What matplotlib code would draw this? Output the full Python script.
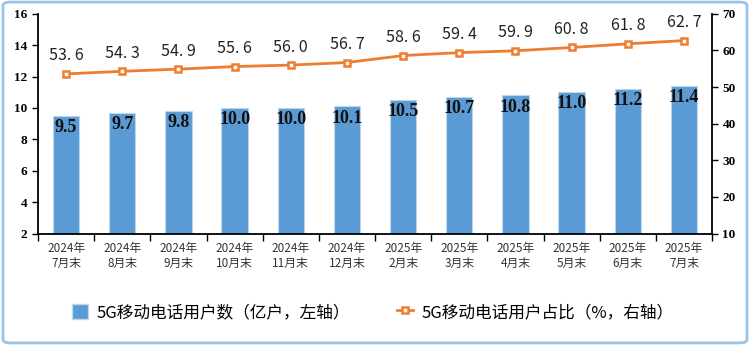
import matplotlib
matplotlib.use("Agg")
import matplotlib.pyplot as plt
from matplotlib.patches import FancyBboxPatch
from matplotlib.lines import Line2D
from matplotlib.patches import Patch
import numpy as np

plt.rcParams['font.family'] = ['Noto Sans CJK SC', 'DejaVu Sans']

categories = ["2024年\n7月末", "2024年\n8月末", "2024年\n9月末", "2024年\n10月末",
              "2024年\n11月末", "2024年\n12月末", "2025年\n2月末", "2025年\n3月末",
              "2025年\n4月末", "2025年\n5月末", "2025年\n6月末", "2025年\n7月末"]
users = [9.5, 9.7, 9.8, 10.0, 10.0, 10.1, 10.5, 10.7, 10.8, 11.0, 11.2, 11.4]
share = [53.6, 54.3, 54.9, 55.6, 56.0, 56.7, 58.6, 59.4, 59.9, 60.8, 61.8, 62.7]
bar_label = "5G移动电话用户数（亿户，左轴）"
line_label = "5G移动电话用户占比（%，右轴）"

bar_color = "#5B9BD5"
line_color = "#ED7D31"

fig = plt.figure(figsize=(7.5, 3.45), dpi=100)
fig.patch.set_facecolor("white")
border = FancyBboxPatch((0.004, 0.006), 0.992, 0.988, boxstyle="round,pad=0,rounding_size=0.01",
                        transform=fig.transFigure, facecolor="none", edgecolor="#9DC3E6",
                        linewidth=2.0, zorder=0)
fig.patches.append(border)

ax = fig.add_axes([0.0507, 0.323, 0.8987, 0.637])
x = np.arange(len(categories))
ax.bar(x, users, width=0.47, color=bar_color, edgecolor="#BDD7EE", linewidth=0.8, zorder=2)
ax.set_ylim(2, 16)
ax.set_yticks(range(2, 17, 2))
ax.set_xlim(-0.5, len(categories) - 0.5)
ax.set_xticks(x)
ax.set_xticklabels(categories, fontsize=8.5, color="#333333", linespacing=1.2)
ax.tick_params(axis='x', length=0, pad=6)
ax.set_xticks(np.arange(-0.5, len(categories), 1), minor=True)
ax.tick_params(axis='x', which='minor', length=5, direction='out', width=1)
ax.tick_params(axis='y', length=4, width=1, labelsize=9.5)
for lbl in ax.get_yticklabels():
    lbl.set_fontfamily("Liberation Serif")
    lbl.set_fontweight("bold")
for sp in ["top", "right"]:
    ax.spines[sp].set_visible(False)
ax.spines["left"].set_linewidth(1.3)
ax.spines["bottom"].set_linewidth(1.3)

for xi, v in zip(x, users):
    ax.text(xi, v - 0.2, f"{v:.1f}", ha="center", va="top", fontsize=13,
            fontfamily="Liberation Serif", fontweight="bold", color="#111111", zorder=3)

ax2 = ax.twinx()
ax2.plot(x, share, color=line_color, linewidth=2.0, marker="s", markersize=5,
         markerfacecolor="white", markeredgecolor=line_color, markeredgewidth=1.8, zorder=4)
ax2.set_ylim(10, 70)
ax2.set_yticks(range(10, 71, 10))
ax2.tick_params(axis='y', length=4, width=1, labelsize=9.5)
for lbl in ax2.get_yticklabels():
    lbl.set_fontfamily("Liberation Serif")
    lbl.set_fontweight("bold")
for sp in ["top", "left", "bottom"]:
    ax2.spines[sp].set_visible(False)
ax2.spines["right"].set_linewidth(1.3)
for xi, v in zip(x, share):
    ax2.text(xi, v + 2.6, f"{v:.1f}".replace(".", ". "), ha="center", va="bottom", fontsize=11.5,
             color="#222222", zorder=5)

h1 = Patch(facecolor=bar_color, edgecolor="#BDD7EE")
h2 = Line2D([0], [0], color=line_color, linewidth=2, marker="s", markersize=5,
            markerfacecolor="white", markeredgecolor=line_color, markeredgewidth=1.8)
fig.legend([h1, h2], [bar_label, line_label], loc="center", bbox_to_anchor=(0.497, 0.095),
           ncol=2, frameon=False, fontsize=12, handlelength=1.0, handleheight=1.0,
           columnspacing=2.8, handletextpad=0.5)

fig.savefig("out.png", dpi=100, facecolor="white")
